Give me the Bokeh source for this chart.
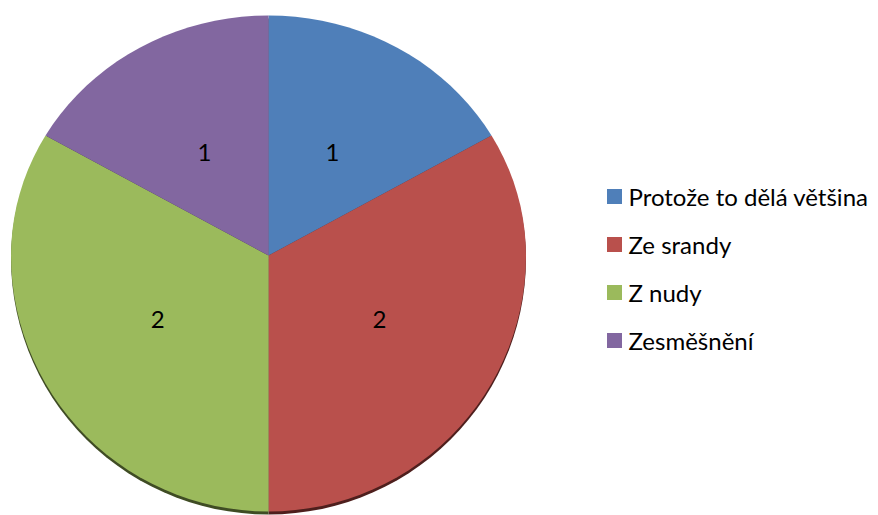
import math
from bokeh.plotting import figure
from bokeh.models import Range1d
from bokeh.core.properties import value
from bokeh.embed import file_html
from bokeh.resources import INLINE

# ---- data ----
categories = ["Protože to dělá většina", "Ze srandy", "Z nudy", "Zesměšnění"]
counts = [1, 2, 2, 1]
colors = ["#4F7FB9", "#B9504C", "#9BBA5C", "#8267A0"]
shadow_colors = ["#2a4060", "#4e1f1d", "#3f4c24", "#3b2c4c"]

# ---- layout (pixel space of the page) ----
W, H = 878, 515
CX, CY = 268, 255
RX, RY_UP, RY_DOWN = 257.5, 240, 256
LABEL_R = 128
FONT = "Lato"
FS = "24px"

p = figure(width=W, height=H, output_backend="svg", toolbar_location=None,
           x_range=Range1d(0, W), y_range=Range1d(H, 0),
           min_border=0, outline_line_color=None)
p.axis.visible = False
p.grid.visible = False
p.background_fill_color = "white"


def pt(theta, scale=1.0):
    s = math.sin(theta)
    ry = RY_UP if s > 0 else RY_DOWN
    return CX + RX * scale * math.cos(theta), CY - ry * scale * s


total = sum(counts)
xs, ys, sxs, sys_ = [], [], [], []
lx, ly = [], []
start = math.pi / 2
for c in counts:
    sweep = 2 * math.pi * c / total
    end = start - sweep
    n = max(8, int(120 * c / total))
    px, py = [CX], [CY]
    for i in range(n + 1):
        t = start + (end - start) * i / n
        x, y = pt(t)
        px.append(x)
        py.append(y)
    xs.append(px)
    ys.append(py)
    sxs.append(px)
    sys_.append([v + 3 for v in py])
    mid = (start + end) / 2
    mx, my = pt(mid, LABEL_R / RX)
    lx.append(mx)
    ly.append(my)
    start = end

p.patches(sxs, sys_, fill_color=shadow_colors, line_color=None)
p.patches(xs, ys, fill_color=colors, line_color=None)

p.text(lx, ly, text=[str(c) for c in counts], text_font=value(FONT),
       text_font_size=FS, text_align="center", text_baseline="middle",
       text_color="black")

# legend
leg_x = [614] * 4
leg_y = [196 + 48 * i for i in range(4)]
p.rect(leg_x, leg_y, width=15, height=15, width_units="screen",
       height_units="screen", fill_color=colors, line_color=None)
p.text([628] * 4, leg_y, text=categories, text_font=value(FONT),
       text_font_size=FS, text_align="left", text_baseline="middle",
       text_color="black")

open("out.html", "w").write(file_html(p, INLINE))
